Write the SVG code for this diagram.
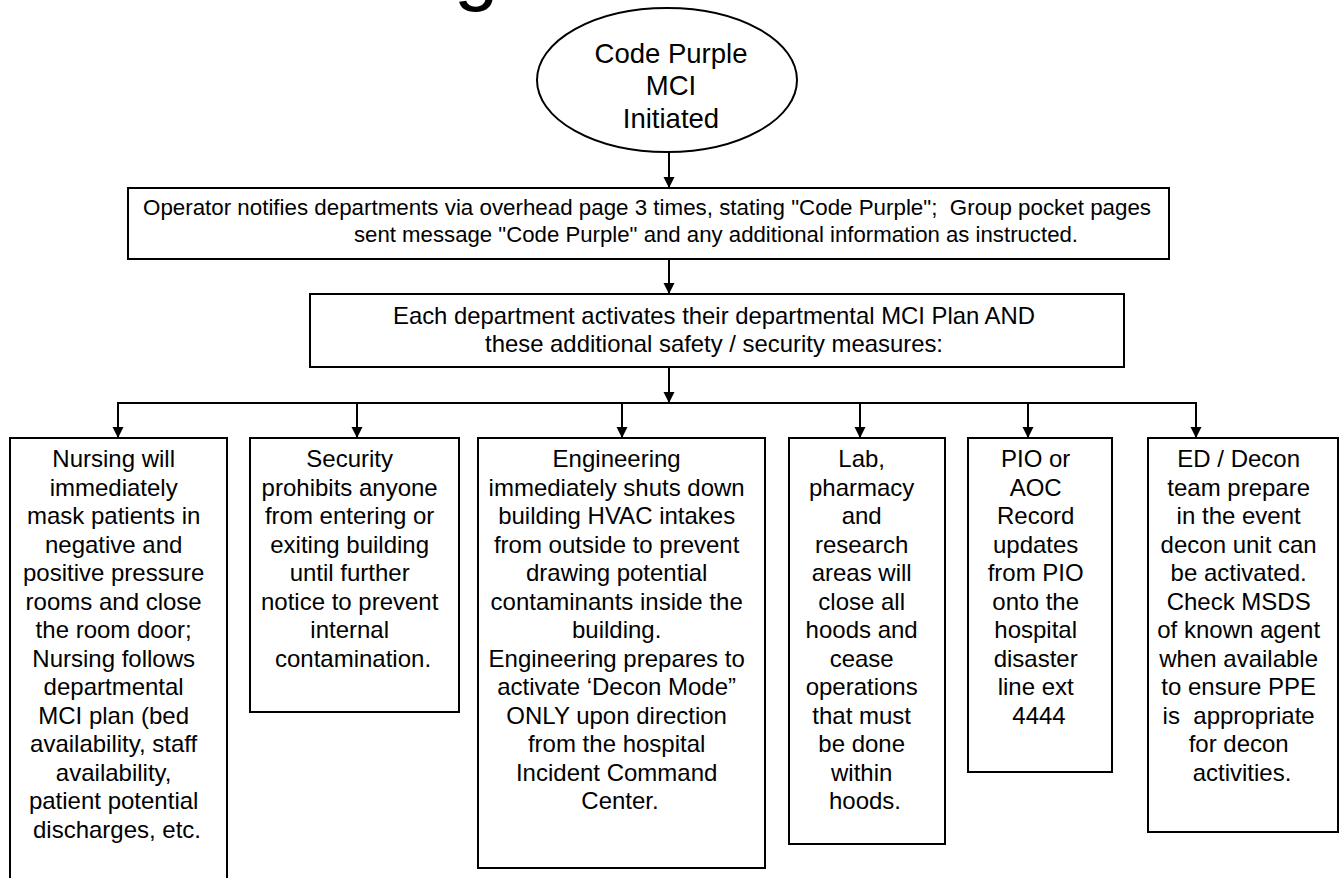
<svg xmlns="http://www.w3.org/2000/svg" width="1341" height="878" viewBox="0 0 1341 878">
<style>
  .box{fill:#fff;stroke:#000;stroke-width:2}
  .t{font-family:"Liberation Sans",Arial,sans-serif;fill:#000;text-anchor:middle}
  .c24{font-size:24px}
  .wire{stroke:#000;stroke-width:2;fill:none}
</style>
<defs>
  <marker id="ah" viewBox="0 0 12 12" refX="12" refY="6" markerWidth="11" markerHeight="12" markerUnits="userSpaceOnUse" orient="auto">
    <path d="M0,0 L12,6 L0,12 z" fill="#000"/>
  </marker>
</defs>
<rect x="0" y="0" width="1341" height="878" fill="#fff"/>
<text x="454" y="-5" font-family="Liberation Sans, Arial, sans-serif" font-size="80" fill="#000">g</text>

<g id="connectors">
  <line class="wire" x1="669" y1="152" x2="669" y2="188" marker-end="url(#ah)"/>
  <line class="wire" x1="669" y1="259" x2="669" y2="294" marker-end="url(#ah)"/>
  <line class="wire" x1="669" y1="367" x2="669" y2="403" marker-end="url(#ah)"/>
  <line class="wire" x1="117" y1="403" x2="1197" y2="403"/>
  <line class="wire" x1="118" y1="403" x2="118" y2="438" marker-end="url(#ah)"/>
  <line class="wire" x1="357" y1="403" x2="357" y2="438" marker-end="url(#ah)"/>
  <line class="wire" x1="622" y1="403" x2="622" y2="438" marker-end="url(#ah)"/>
  <line class="wire" x1="860" y1="403" x2="860" y2="438" marker-end="url(#ah)"/>
  <line class="wire" x1="1028" y1="403" x2="1028" y2="438" marker-end="url(#ah)"/>
  <line class="wire" x1="1196" y1="403" x2="1196" y2="438" marker-end="url(#ah)"/>
</g>

<g id="start">
  <ellipse cx="667" cy="80" rx="130" ry="72" fill="#fff" stroke="#000" stroke-width="2"/>
  <text class="t" font-size="27.5" x="671" y="63">Code Purple</text>
  <text class="t" font-size="27.5" x="671" y="95">MCI</text>
  <text class="t" font-size="27.5" x="671" y="128">Initiated</text>
</g>

<g id="operator">
  <rect class="box" x="128" y="188" width="1041" height="71"/>
  <text class="t" font-size="22" x="647" y="215" textLength="1008" lengthAdjust="spacingAndGlyphs">Operator notifies departments via overhead page 3 times, stating "Code Purple";&#160; Group pocket pages</text>
  <text class="t" font-size="22" x="716" y="242" textLength="724" lengthAdjust="spacingAndGlyphs">sent message "Code Purple" and any additional information as instructed.</text>
</g>

<g id="departments">
  <rect class="box" x="310" y="294" width="814" height="73"/>
  <text class="t c24" x="714" y="324" textLength="642" lengthAdjust="spacingAndGlyphs">Each department activates their departmental MCI Plan AND</text>
  <text class="t c24" x="714" y="352" textLength="458" lengthAdjust="spacingAndGlyphs">these additional safety / security measures:</text>
</g>

<g id="nursing">
  <rect class="box" x="10" y="438" width="217" height="470"/>
  <text class="t c24" y="467">
    <tspan x="117">Nursing will</tspan>
    <tspan x="117" dy="28.5">immediately</tspan>
    <tspan x="117" dy="28.5">mask patients in</tspan>
    <tspan x="117" dy="28.5">negative and</tspan>
    <tspan x="117" dy="28.5">positive pressure</tspan>
    <tspan x="117" dy="28.5">rooms and close</tspan>
    <tspan x="117" dy="28.5">the room door;</tspan>
    <tspan x="117" dy="28.5">Nursing follows</tspan>
    <tspan x="117" dy="28.5">departmental</tspan>
    <tspan x="117" dy="28.5">MCI plan (bed</tspan>
    <tspan x="117" dy="28.5">availability, staff</tspan>
    <tspan x="117" dy="28.5">availability,</tspan>
    <tspan x="117" dy="28.5">patient potential</tspan>
    <tspan x="117" dy="28.5">discharges, etc.</tspan>
  </text>
</g>

<g id="security">
  <rect class="box" x="250" y="438" width="209" height="274"/>
  <text class="t c24" y="467">
    <tspan x="353">Security</tspan>
    <tspan x="353" dy="28.5">prohibits anyone</tspan>
    <tspan x="353" dy="28.5">from entering or</tspan>
    <tspan x="353" dy="28.5">exiting building</tspan>
    <tspan x="353" dy="28.5">until further</tspan>
    <tspan x="353" dy="28.5">notice to prevent</tspan>
    <tspan x="353" dy="28.5">internal</tspan>
    <tspan x="353" dy="28.5">contamination.</tspan>
  </text>
</g>

<g id="engineering">
  <rect class="box" x="478" y="438" width="287" height="430"/>
  <text class="t c24" y="467">
    <tspan x="620">Engineering</tspan>
    <tspan x="620" dy="28.5">immediately shuts down</tspan>
    <tspan x="620" dy="28.5">building HVAC intakes</tspan>
    <tspan x="620" dy="28.5">from outside to prevent</tspan>
    <tspan x="620" dy="28.5">drawing potential</tspan>
    <tspan x="620" dy="28.5">contaminants inside the</tspan>
    <tspan x="620" dy="28.5">building.</tspan>
    <tspan x="620" dy="28.5">Engineering prepares to</tspan>
    <tspan x="620" dy="28.5">activate ‘Decon Mode”</tspan>
    <tspan x="620" dy="28.5">ONLY upon direction</tspan>
    <tspan x="620" dy="28.5">from the hospital</tspan>
    <tspan x="620" dy="28.5">Incident Command</tspan>
    <tspan x="620" dy="28.5">Center.</tspan>
  </text>
</g>

<g id="lab">
  <rect class="box" x="789" y="438" width="156" height="406"/>
  <text class="t c24" y="467">
    <tspan x="865">Lab,</tspan>
    <tspan x="865" dy="28.5">pharmacy</tspan>
    <tspan x="865" dy="28.5">and</tspan>
    <tspan x="865" dy="28.5">research</tspan>
    <tspan x="865" dy="28.5">areas will</tspan>
    <tspan x="865" dy="28.5">close all</tspan>
    <tspan x="865" dy="28.5">hoods and</tspan>
    <tspan x="865" dy="28.5">cease</tspan>
    <tspan x="865" dy="28.5">operations</tspan>
    <tspan x="865" dy="28.5">that must</tspan>
    <tspan x="865" dy="28.5">be done</tspan>
    <tspan x="865" dy="28.5">within</tspan>
    <tspan x="865" dy="28.5">hoods.</tspan>
  </text>
</g>

<g id="pio">
  <rect class="box" x="968" y="438" width="144" height="334"/>
  <text class="t c24" y="467">
    <tspan x="1039">PIO or</tspan>
    <tspan x="1039" dy="28.5">AOC</tspan>
    <tspan x="1039" dy="28.5">Record</tspan>
    <tspan x="1039" dy="28.5">updates</tspan>
    <tspan x="1039" dy="28.5">from PIO</tspan>
    <tspan x="1039" dy="28.5">onto the</tspan>
    <tspan x="1039" dy="28.5">hospital</tspan>
    <tspan x="1039" dy="28.5">disaster</tspan>
    <tspan x="1039" dy="28.5">line ext</tspan>
    <tspan x="1039" dy="28.5">4444</tspan>
  </text>
</g>

<g id="ed-decon">
  <rect class="box" x="1148" y="438" width="190" height="394"/>
  <text class="t c24" y="467">
    <tspan x="1242">ED / Decon</tspan>
    <tspan x="1242" dy="28.5">team prepare</tspan>
    <tspan x="1242" dy="28.5">in the event</tspan>
    <tspan x="1242" dy="28.5">decon unit can</tspan>
    <tspan x="1242" dy="28.5">be activated.</tspan>
    <tspan x="1242" dy="28.5">Check MSDS</tspan>
    <tspan x="1242" dy="28.5">of known agent</tspan>
    <tspan x="1242" dy="28.5">when available</tspan>
    <tspan x="1242" dy="28.5">to ensure PPE</tspan>
    <tspan x="1242" dy="28.5">is&#160; appropriate</tspan>
    <tspan x="1242" dy="28.5">for decon</tspan>
    <tspan x="1242" dy="28.5">activities.</tspan>
  </text>
</g>
</svg>
